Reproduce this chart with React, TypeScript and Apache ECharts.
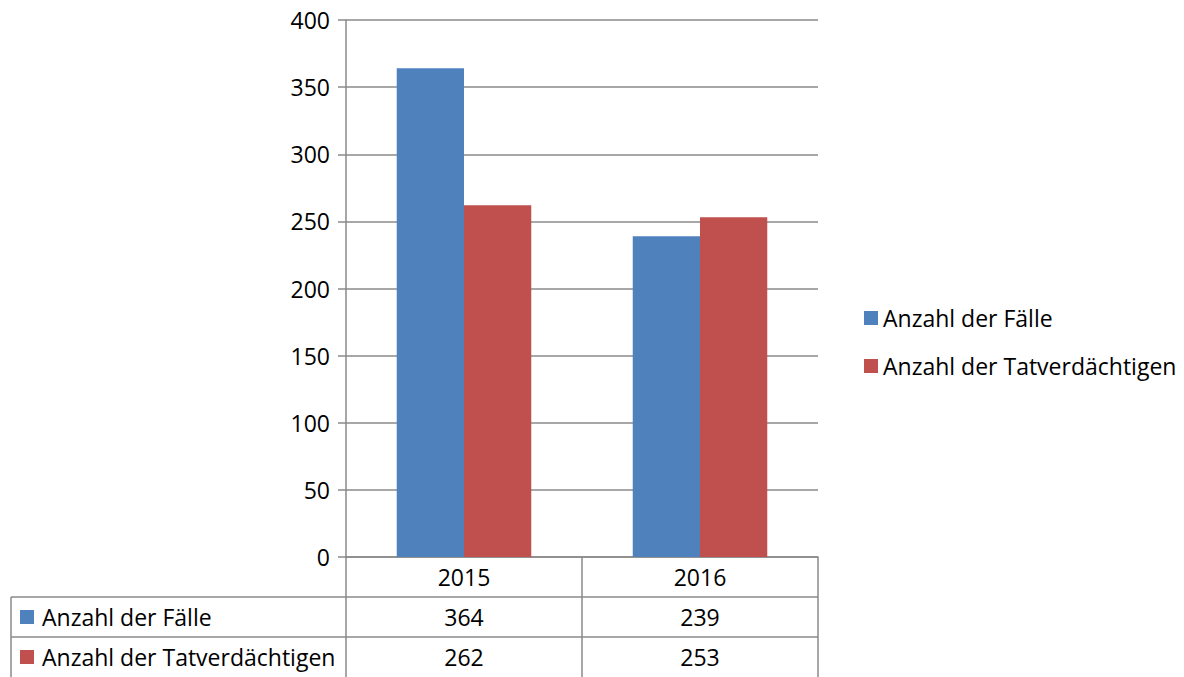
import React, { useEffect, useRef } from "react";
import * as echarts from "echarts";

const categories = ["2015", "2016"];
const seriesNames = ["Anzahl der Fälle", "Anzahl der Tatverdächtigen"];
const faelle = [364, 239];
const tatverdaechtige = [262, 253];
const seriesValues = [faelle, tatverdaechtige];
const seriesColors = ["#4F81BD", "#C0504D"];

const FONT = "'Open Sans', sans-serif";
const W = 1184;
const H = 677;
const GRID_LEFT = 346;
const GRID_RIGHT_X = 818;
const GRID_TOP = 20;
const GRID_BOTTOM_Y = 557;
const ROW_H = 40;
const TABLE_LEFT = 11;
const LINE_COLOR = "#8a8a8a";

export default function App() {
  const ref = useRef<HTMLDivElement>(null);
  useEffect(() => {
    if (!ref.current) return;
    const chart = echarts.init(ref.current, undefined, { renderer: "svg" });
    const colW = (GRID_RIGHT_X - GRID_LEFT) / categories.length;

    const graphics: any[] = [];
    for (let r = 1; r <= seriesNames.length; r++) {
      const y = GRID_BOTTOM_Y + r * ROW_H;
      graphics.push({
        type: "line",
        shape: { x1: TABLE_LEFT, y1: y, x2: GRID_RIGHT_X, y2: y },
        style: { stroke: LINE_COLOR, lineWidth: 1.5 },
      });
    }
    graphics.push({
      type: "line",
      shape: { x1: TABLE_LEFT, y1: GRID_BOTTOM_Y + ROW_H, x2: TABLE_LEFT, y2: H + 2 },
      style: { stroke: LINE_COLOR, lineWidth: 1.5 },
    });
    seriesNames.forEach((name, si) => {
      const cy = GRID_BOTTOM_Y + (si + 1) * ROW_H + ROW_H / 2;
      graphics.push({
        type: "rect",
        shape: { x: 20, y: cy - 7, width: 14, height: 14 },
        style: { fill: seriesColors[si] },
      });
      graphics.push({
        type: "text",
        x: 42,
        y: cy,
        style: {
          text: name,
          font: `23px ${FONT}`,
          fill: "#000",
          textVerticalAlign: "middle",
          verticalAlign: "middle",
        },
      });
      seriesValues[si].forEach((v, ci) => {
        graphics.push({
          type: "text",
          x: GRID_LEFT + colW * (ci + 0.5),
          y: cy,
          style: {
            text: String(v),
            font: `23px ${FONT}`,
            fill: "#000",
            align: "center",
            textAlign: "center",
            verticalAlign: "middle",
            textVerticalAlign: "middle",
          },
        });
      });
    });

    chart.setOption({
      animation: false,
      backgroundColor: "#fff",
      textStyle: { fontFamily: FONT },
      grid: {
        left: GRID_LEFT,
        top: GRID_TOP,
        width: GRID_RIGHT_X - GRID_LEFT,
        height: GRID_BOTTOM_Y - GRID_TOP,
      },
      legend: {
        orient: "vertical",
        left: 859,
        top: 301,
        itemWidth: 14,
        itemHeight: 14,
        itemGap: 24,
        icon: "rect",
        textStyle: { fontSize: 23, color: "#000", fontFamily: FONT, lineHeight: 24 },
        data: seriesNames,
      },
      xAxis: {
        type: "category",
        data: categories,
        boundaryGap: true,
        axisLine: { show: true, lineStyle: { color: LINE_COLOR, width: 1.5 } },
        axisTick: {
          show: true,
          length: H - GRID_BOTTOM_Y + 2,
          interval: 0,
          lineStyle: { color: LINE_COLOR, width: 1.5 },
        },
        axisLabel: {
          margin: 20,
          verticalAlign: "middle",
          fontSize: 23,
          color: "#000",
          fontFamily: FONT,
        },
      },
      yAxis: {
        type: "value",
        min: 0,
        max: 400,
        interval: 50,
        axisLine: { show: true, lineStyle: { color: LINE_COLOR, width: 1.5 } },
        axisTick: { show: true, length: 8, lineStyle: { color: LINE_COLOR, width: 1.5 } },
        splitLine: { show: true, lineStyle: { color: LINE_COLOR, width: 1.5 } },
        axisLabel: { margin: 16, fontSize: 23, color: "#000", fontFamily: FONT },
      },
      series: seriesNames.map((name, si) => ({
        type: "bar",
        name,
        data: seriesValues[si],
        barGap: "0%",
        barCategoryGap: "43%",
        itemStyle: { color: seriesColors[si] },
      })),
      graphic: graphics,
    });
    return () => chart.dispose();
  }, []);
  return (
    <div
      ref={ref}
      style={{ position: "absolute", left: 0, top: 0, width: W, height: H }}
    />
  );
}
